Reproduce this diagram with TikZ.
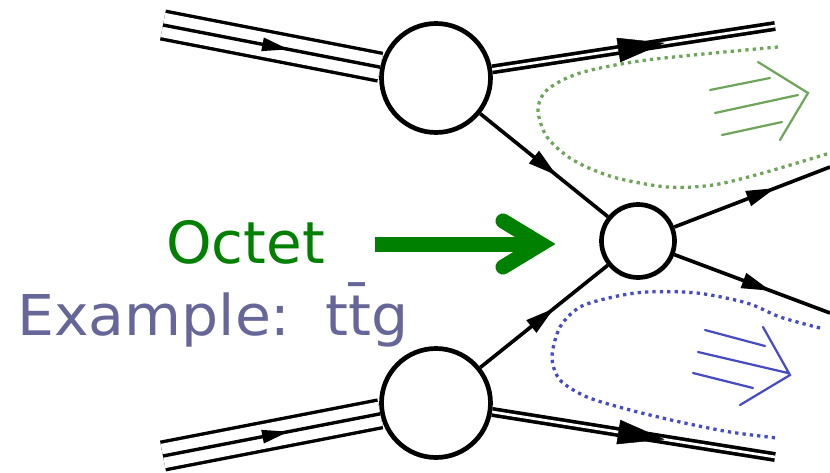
\documentclass[tikz,border=0pt]{standalone}
\usepackage{fontspec}
\setmainfont{DejaVu Sans}
\usetikzlibrary{arrows.meta,decorations.markings,positioning}
\definecolor{octet}{RGB}{0,128,0}
\definecolor{example}{RGB}{102,102,153}
\definecolor{jetgreen}{RGB}{110,165,90}
\definecolor{jetblue}{RGB}{70,75,195}
\tikzset{
  blob/.style={circle, draw=black, line width=4pt, fill=white, inner sep=0pt},
  parton/.style={line width=3.1pt, postaction={decorate},
    decoration={markings, mark=at position #1 with {\arrow{Triangle[length=25pt,width=13pt]}}}},
  beamline/.style={line width=2.9pt, postaction={decorate},
    decoration={markings, mark=at position #1 with {\arrow{Triangle[length=23pt,width=11pt]}}}},
  beam/.style={line width=2.9pt, double distance=21pt},
  remnant/.style={line width=3.1pt, double distance=2.3pt},
  remtip/.style={decorate,
    decoration={markings, mark=at position #1 with {\arrow{Triangle[length=40pt,width=21pt]}}}},
  halo/.style={line width=2.8pt, dash pattern=on 2.8pt off 3.5pt},
  jetsym/.style={line width=1.9pt, line cap=round},
  bigarrow/.style={draw=octet, line width=12.8pt},
  label/.style={font=\fontsize{48}{56}\selectfont, inner sep=0pt}
}
\begin{document}
\begin{tikzpicture}[x=0.03cm, y=-0.03cm]
  \useasboundingbox (0,0) rectangle (830,473);
  % blobs and the hard vertex
  \node[blob, minimum size=3.27cm] (pdfa) at (436,78) {};
  \node[blob, minimum size=3.27cm] (pdfb) at (436,403) {};
  \node[blob, minimum size=2.19cm] (hard) at (638,241) {};
  \coordinate (inA) at (163,25);
  \coordinate (inB) at (163,456);
  \coordinate (remA) at (775,26);
  \coordinate (remB) at (775,457);
  \coordinate (outA) at (830,167);
  \coordinate (outB) at (830,313);

  % incoming protons
  \foreach \p/\q in {inA/pdfa, inB/pdfb}{
    \draw[beam] (\p) -- (\q);
    \draw[beamline=0.58] (\p) -- (\q);
  }
  % remnants
  \draw[remnant] (pdfa) -- (remA);
  \path[remtip=0.61] (pdfa) -- (remA);
  \draw[remnant] (pdfb) -- (remB);
  \path[remtip=0.61] (pdfb) -- (remB);
  % partons into and out of the hard vertex
  \draw[parton=0.6] (pdfa) -- (hard);
  \draw[parton=0.58] (pdfb) -- (hard);
  \draw[parton=0.65] (hard) -- (outA);
  \draw[parton=0.62] (hard) -- (outB);

  % colour flow of the octet
  \draw[halo, jetgreen] plot[smooth] coordinates {(778,47) (647,60) (580,73) (547,90) (538,110)
    (547,137) (573,160) (613,177) (667,187) (713,185) (763,173) (830,153)};
  \draw[halo, jetblue] plot[smooth] coordinates {(820,328) (780,317) (747,303) (697,293) (647,292)
    (613,297) (580,307) (560,327) (552,357) (560,380) (587,397) (630,410) (680,422) (730,432) (777,438)};
  \draw[jetsym, jetgreen] (710,90) -- (770,78) (715,113) -- (798,95) (722,135) -- (782,122)
    (758,62) -- (808,93) -- (780,140);
  \draw[jetsym, jetblue] (705,330) -- (765,346) (698,352) -- (788,373) (693,373) -- (753,388)
    (763,327) -- (790,375) -- (740,405);

  % labels
  \node[label, octet, anchor=base west, font=\fontsize{49.5}{56}\selectfont] (octetlbl) at (166,263) {Octet};
  \node[label, example, anchor=base west] (examplelbl) at (17,335)
    {\addfontfeature{FakeStretch=1.04}Example:\hspace{0.62em}t\={t}g};
  \coordinate (arrtail) at (375,244);
  \coordinate (arrtip) at (541,244);
  \draw[bigarrow] (arrtail) -- (arrtip);
  \draw[bigarrow, line cap=round, miter limit=4] (503,221) -- (arrtip) -- (503,267);
\end{tikzpicture}
\end{document}
